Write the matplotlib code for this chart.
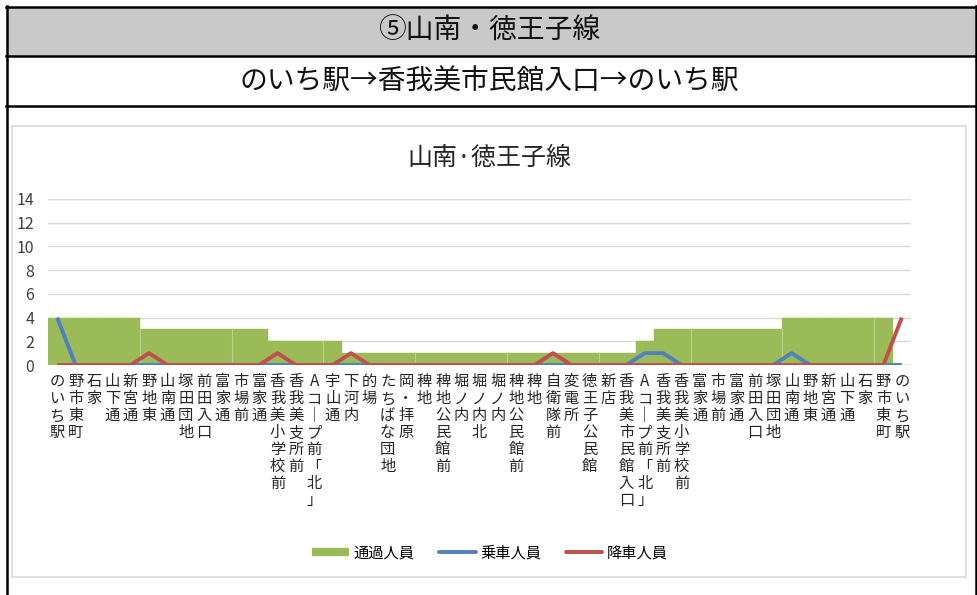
import matplotlib
matplotlib.use("Agg")
import matplotlib.pyplot as plt
from matplotlib.lines import Line2D
from matplotlib.patches import Rectangle

plt.rcParams['font.family'] = ['Noto Sans CJK JP', 'DejaVu Sans']

# route data
header = "⑤山南・徳王子線"
route = "のいち駅→香我美市民館入口→のいち駅"
title = "山南·徳王子線"

stops = ["のいち駅", "野市東町", "石家", "山下通", "新宮通", "野地東", "山南通",
         "塚田団地", "前田入口", "富家通", "市場前", "富家通", "香我美小学校前",
         "香我美支所前", "Aコープ前「北」", "宇山通", "下河内", "的場", "たちばな団地",
         "岡・拝原", "稗地", "稗地公民館前", "堀ノ内", "堀ノ内北", "堀ノ内",
         "稗地公民館前", "稗地", "自衛隊前", "変電所", "徳王子公民館", "新店",
         "香我美市民館入口", "Aコープ前「北」", "香我美支所前", "香我美小学校前",
         "富家通", "市場前", "富家通", "前田入口", "塚田団地", "山南通", "野地東",
         "新宮通", "山下通", "石家", "野市東町", "のいち駅"]

passing = [4, 4, 4, 4, 4, 3, 3, 3, 3, 3, 3, 3, 2, 2, 2, 2,
           1, 1, 1, 1, 1, 1, 1, 1, 1, 1, 1, 1, 1, 1, 1, 1,
           2, 3, 3, 3, 3, 3, 3, 3, 4, 4, 4, 4, 4, 4, 0]
boarding = [4, 0, 0, 0, 0, 0, 0, 0, 0, 0, 0, 0, 0, 0, 0, 0,
            0, 0, 0, 0, 0, 0, 0, 0, 0, 0, 0, 0, 0, 0, 0, 0,
            1, 1, 0, 0, 0, 0, 0, 0, 1, 0, 0, 0, 0, 0, 0]
alighting = [0, 0, 0, 0, 0, 1, 0, 0, 0, 0, 0, 0, 1, 0, 0, 0,
             1, 0, 0, 0, 0, 0, 0, 0, 0, 0, 0, 1, 0, 0, 0, 0,
             0, 0, 0, 0, 0, 0, 0, 0, 0, 0, 0, 0, 0, 0, 4]
series_names = ["通過人員", "乗車人員", "降車人員"]
yticks = [0, 2, 4, 6, 8, 10, 12, 14]

green = "#9BBB59"
blue = "#4F81BD"
red = "#C0504D"

W, H = 978, 595
fig = plt.figure(figsize=(W / 100, H / 100), dpi=100)


def fx(px):
    return px / W


def fy(py):
    return 1 - py / H


# header table
fig.add_artist(Rectangle((fx(7), fy(56)), fx(976) - fx(7), fy(7) - fy(56),
                         facecolor="#C9C9C9", edgecolor="none"))
for y in [7, 56, 106]:
    fig.add_artist(Line2D([fx(6), fx(977)], [fy(y), fy(y)], color="black", lw=1.8))
for x in [7, 976]:
    fig.add_artist(Line2D([fx(x), fx(x)], [fy(6), 0], color="black", lw=1.8))
fig.text(0.5, fy(31), header, ha="center", va="center", fontsize=20, color="#111111")
fig.text(0.5, fy(81), route, ha="center", va="center", fontsize=20, color="#111111")

# chart frame
fig.add_artist(Rectangle((fx(12), fy(577)), fx(966) - fx(12), fy(126) - fy(577),
                         facecolor="none", edgecolor="#D9D9D9", lw=1.2))
fig.text(fx(489), fy(158), title, ha="center", va="center", fontsize=18, color="#262626")

ax = fig.add_axes([fx(48), fy(365), fx(911) - fx(48), fy(199) - fy(365)])
x = list(range(len(stops)))

ax.bar(x, passing, width=1.0, color=green, edgecolor=green, linewidth=0.3, zorder=2)
# faint separators every 5 categories
for k in range(5, len(stops), 5):
    h = min(passing[k - 1], passing[k])
    if h > 0:
        ax.plot([k - 0.5, k - 0.5], [0, h], color="#B9D38A", lw=0.8, zorder=2.5)
ax.plot(x, boarding, color=blue, lw=2.8, zorder=3, solid_capstyle="butt")
ax.plot(x, alighting, color=red, lw=2.8, zorder=4, solid_capstyle="butt")

ax.set_xlim(-0.5, len(stops) - 0.5)
ax.set_ylim(0, 14)
ax.set_yticks(yticks)
ax.set_yticklabels([str(v) for v in yticks], fontsize=11.5, color="#404040")
ax.grid(axis="y", color="#D9D9D9", lw=1.0, zorder=0)
ax.set_axisbelow(True)
for s in ax.spines.values():
    s.set_visible(False)

vert = ["\n".join(s.replace("ー", "｜")) for s in stops]
ax.set_xticks(x)
ax.set_xticklabels(vert, fontsize=11, color="#262626", linespacing=1.0,
                   multialignment="center")
ax.tick_params(axis="x", length=0, pad=6)
ax.tick_params(axis="y", length=0, pad=10)

handles = [Line2D([], [], color=green, lw=6, solid_capstyle="butt"),
           Line2D([], [], color=blue, lw=2.8, solid_capstyle="round"),
           Line2D([], [], color=red, lw=2.8, solid_capstyle="round")]
fig.legend(handles, series_names, loc="center", bbox_to_anchor=(fx(490), fy(553)),
           ncol=3, frameon=False, fontsize=11, handlelength=2.4, handletextpad=0.3,
           columnspacing=1.6)

fig.savefig("out.png", dpi=100)
